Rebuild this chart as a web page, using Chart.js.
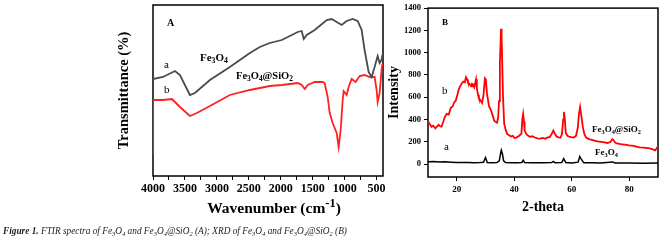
<!DOCTYPE html>
<html>
<head>
<meta charset="utf-8">
<script src="https://cdn.jsdelivr.net/npm/chart.js@4.4.0/dist/chart.umd.min.js"></script>
<style>
  body { margin: 0; background: #fff; }
  #wrap { position: relative; width: 668px; height: 246px; overflow: hidden; font-family: 'Liberation Serif', 'Times New Roman', serif; color: #000; }
  canvas { position: absolute; }
  .lbl { position: absolute; white-space: nowrap; line-height: 1; }
  .lbl sub { font-size: 70%; vertical-align: -0.3em; line-height: 0; }
  .lbl sup { font-size: 80%; vertical-align: 0.45em; line-height: 0; }
  .b { font-weight: bold; }
  .caption { transform: scaleX(0.93); transform-origin: 0 0; }
</style>
</head>
<body>
<div id="wrap">
  <canvas id="chartA" width="293" height="225" style="left:100px;top:0"></canvas>
  <canvas id="chartB" width="288" height="225" style="left:380px;top:0"></canvas>

  <!-- panel A texts -->
  <div class="lbl b" style="left:167px;top:18px;font-size:10px">A</div>
  <div class="lbl" style="left:164px;top:59px;font-size:11px">a</div>
  <div class="lbl" style="left:164px;top:84px;font-size:11px">b</div>
  <div class="lbl b" style="left:200px;top:52px;font-size:11px">Fe<sub>3</sub>O<sub>4</sub></div>
  <div class="lbl b" style="left:236px;top:71px;font-size:10.5px">Fe<sub>3</sub>O<sub>4</sub>@SiO<sub>2</sub></div>
  <div class="lbl b" style="left:174px;top:200px;width:200px;text-align:center;font-size:15.5px">Wavenumber (cm<sup>-1</sup>)</div>

  <!-- panel B texts -->
  <div class="lbl b" style="left:442px;top:18px;font-size:9px">B</div>
  <div class="lbl" style="left:442px;top:85px;font-size:11px">b</div>
  <div class="lbl" style="left:444px;top:141px;font-size:11px">a</div>
  <div class="lbl b" style="left:592px;top:125px;font-size:9px">Fe<sub>3</sub>O<sub>4</sub>@SiO<sub>2</sub></div>
  <div class="lbl b" style="left:595px;top:148px;font-size:9px">Fe<sub>3</sub>O<sub>4</sub></div>

  <div class="lbl caption" style="left:3px;top:226px;font-size:10px;font-style:italic;color:#222"><span class="b">Figure 1.</span> FTIR spectra of Fe<sub>3</sub>O<sub>4</sub> and Fe<sub>3</sub>O<sub>4</sub>@SiO<sub>2</sub> (A); XRD of Fe<sub>3</sub>O<sub>4</sub> and Fe<sub>3</sub>O<sub>4</sub>@SiO<sub>2</sub> (B)</div>
</div>

<script>
// FTIR (A) - curve a: Fe3O4
const ftirWaveA  = [4000, 3844, 3656, 3578, 3422, 3344, 3109, 2797, 2484, 2328, 2172, 1984, 1734, 1672, 1641, 1594, 1469, 1281, 1203, 1125, 1047, 969, 875, 797, 734, 688, 625, 578, 531, 484, 453, 422, 410];
const ftirTransA = [97, 99, 105, 101, 81, 83, 96, 109, 123, 129, 133, 136, 144, 145, 137, 141, 146, 156, 157, 154, 151, 155, 157, 155, 146, 126, 104, 99, 109, 120, 113, 116, 121];

// FTIR (A) - curve b: Fe3O4@SiO2
const ftirWaveB  = [4000, 4000, 3844, 3703, 3578, 3422, 3313, 3109, 2797, 2484, 2172, 1984, 1734, 1672, 1625, 1578, 1469, 1344, 1313, 1266, 1234, 1188, 1125, 1094, 1063, 1031, 1016, 969, 938, 891, 828, 766, 688, 609, 531, 500, 484, 453, 422, 410];
const ftirTransB = [21, 76, 76, 77, 69, 60, 63, 70, 81, 86, 90, 91, 93, 91, 87, 91, 94, 94, 93, 79, 63, 53, 43, 29, 46, 76, 85, 81, 89, 97, 94, 100, 101, 99, 99, 86, 74, 83, 106, 112];

// XRD (B) - curve a: Fe3O4
const xrdAngleA = [10, 12, 14, 16, 18, 20, 22, 24, 26, 28, 29.3, 30.0, 30.6, 32, 34, 34.8, 35.2, 35.5, 35.9, 36.3, 37, 39, 41, 42.6, 43.1, 43.6, 46, 50, 53, 53.6, 54.2, 56.5, 57.2, 57.9, 60, 62.2, 62.8, 63.4, 64.2, 67, 70, 74.3, 75, 80, 85, 90];
const xrdIntA   = [22, 25, 20, 22, 18, 15, 14, 15, 13, 15, 18, 60, 15, 12, 14, 30, 90, 125, 90, 30, 15, 12, 12, 14, 35, 14, 12, 12, 14, 25, 12, 14, 50, 14, 10, 18, 70, 40, 12, 12, 10, 20, 10, 10, 8, 10];

// XRD (B) - curve b: Fe3O4@SiO2
const xrdAngleB = [10, 10.6, 11.2, 11.8, 12.6, 13.2, 13.7, 14.2, 14.7, 15.3, 15.8, 16.5, 17.2, 17.9, 18.6, 19.2, 19.6, 20.2, 20.7, 21.2, 21.8, 22.3, 22.8, 23.2, 23.6, 23.9, 24.4, 25.0, 25.3, 25.6, 26.1, 26.7, 27.0, 27.4, 27.7, 28.3, 28.8, 29.3, 29.8, 30.1, 30.5, 31.2, 31.8, 32.3, 32.7, 33.0, 33.5, 34.0, 34.4, 34.7, 35.0, 35.4, 35.6, 35.8, 36.1, 36.5, 37.0, 37.5, 38.2, 38.9, 39.5, 40.1, 40.7, 41.5, 42.0, 42.5, 42.8, 43.1, 43.4, 43.6, 44.2, 44.7, 45.5, 46.3, 47.2, 48.0, 49.0, 50.0, 50.8, 51.5, 52.4, 53.0, 53.6, 54.2, 54.7, 55.4, 56.1, 56.6, 57.0, 57.3, 57.6, 57.9, 58.5, 59.0, 59.8, 60.7, 61.5, 62.1, 62.5, 62.9, 63.3, 63.9, 64.4, 65.0, 66.0, 67.0, 67.9, 69.0, 70.2, 71.4, 72.5, 73.5, 74.1, 74.6, 75.2, 75.7, 77.0, 78.5, 79.9, 81.5, 83.5, 85.0, 87.0, 88.0, 89.0, 89.5, 90.0];
const xrdIntB   = [383, 360, 336, 345, 321, 340, 354, 340, 336, 380, 420, 451, 445, 504, 520, 560, 566, 620, 672, 700, 726, 740, 735, 779, 760, 735, 720, 699, 720, 717, 690, 761, 681, 620, 593, 570, 549, 620, 770, 760, 637, 522, 490, 451, 420, 389, 380, 372, 420, 566, 900, 1215, 1150, 920, 600, 363, 310, 274, 260, 248, 255, 235, 239, 250, 262, 274, 400, 451, 380, 301, 270, 257, 245, 250, 239, 232, 230, 235, 228, 239, 245, 270, 301, 270, 248, 240, 239, 270, 400, 469, 400, 283, 255, 248, 242, 239, 255, 327, 450, 513, 440, 327, 270, 239, 225, 218, 212, 205, 200, 195, 190, 200, 225, 212, 192, 186, 180, 175, 168, 165, 150, 148, 142, 135, 124, 140, 160];

// tick positions / labels
const ftirTicks      = [4000, 3750, 3500, 3250, 3000, 2750, 2500, 2250, 2000, 1750, 1500, 1250, 1000, 750, 500];
const ftirTickLabels = [4000, 3500, 3000, 2500, 2000, 1500, 1000, 500];
const xrdXTickLabels = [20, 40, 60, 80];
const xrdYTickLabels = [0, 200, 400, 600, 800, 1000, 1200, 1400];

function pairs(xs, ys) {
    return xs.map((x, i) => ({ x: x, y: ys[i] }));
}

function fixedTicks(values) {
    return s => { s.ticks = values.map(v => ({ value: v })); };
}

Chart.defaults.font.family = "'Liberation Serif', 'Times New Roman', serif";
Chart.defaults.color = '#000';

// 画外框
const framePlugin = {
    id: 'frame',
    beforeDatasetsDraw(chart) {
        const { ctx, chartArea: a } = chart;
        ctx.save();
        ctx.strokeStyle = '#000';
        ctx.lineWidth = 1.5;
        ctx.strokeRect(a.left, a.top, a.right - a.left, a.bottom - a.top);
        ctx.restore();
    }
};

const lineStyle = { pointRadius: 0, tension: 0, fill: false };

new Chart(document.getElementById('chartA'), {
    type: 'line',
    data: {
        datasets: [
            Object.assign({ data: pairs(ftirWaveA, ftirTransA), borderColor: '#4a4a4a', borderWidth: 1.8 }, lineStyle),
            Object.assign({ data: pairs(ftirWaveB, ftirTransB), borderColor: '#ff2020', borderWidth: 1.8 }, lineStyle)
        ]
    },
    options: {
        responsive: false,
        animation: false,
        layout: { padding: { top: 5, right: 10, left: 0, bottom: 0 } },
        plugins: { legend: { display: false }, tooltip: { enabled: false } },
        scales: {
            x: {
                type: 'linear',
                reverse: true,
                min: 400,
                max: 4000,
                afterBuildTicks: fixedTicks(ftirTicks),
                afterFit: s => { s.height = 49; },
                ticks: {
                    autoSkip: false,
                    maxRotation: 0,
                    padding: 2,
                    font: { size: 12, weight: 'bold' },
                    callback: v => ftirTickLabels.includes(v) ? String(v) : ''
                },
                grid: { drawOnChartArea: false, tickLength: 4, color: '#000', lineWidth: 1 },
                border: { display: false }
            },
            y: {
                min: 0,
                max: 171,
                afterFit: s => { s.width = 53; },
                ticks: { display: false },
                grid: { display: false },
                border: { display: false },
                title: {
                    display: true,
                    text: 'Transmittance (%)',
                    font: { size: 14.5, weight: 'bold' },
                    padding: { top: 16, bottom: 0 }
                }
            }
        }
    },
    plugins: [framePlugin]
});

new Chart(document.getElementById('chartB'), {
    type: 'line',
    data: {
        datasets: [
            Object.assign({ data: pairs(xrdAngleA, xrdIntA), borderColor: '#000000', borderWidth: 1.5 }, lineStyle),
            Object.assign({ data: pairs(xrdAngleB, xrdIntB), borderColor: '#ff0000', borderWidth: 1.8 }, lineStyle)
        ]
    },
    options: {
        responsive: false,
        animation: false,
        layout: { padding: { top: 5, right: 10, left: 0, bottom: 0 } },
        plugins: { legend: { display: false }, tooltip: { enabled: false } },
        scales: {
            x: {
                type: 'linear',
                min: 10,
                max: 90,
                afterBuildTicks: fixedTicks(xrdXTickLabels),
                afterFit: s => { s.height = 48; },
                ticks: { autoSkip: false, maxRotation: 0, padding: 3, font: { size: 9, weight: 'bold' }, callback: v => String(v) },
                grid: { drawOnChartArea: false, tickLength: 4, color: '#000', lineWidth: 1 },
                border: { display: false },
                title: {
                    display: true,
                    text: '2-theta',
                    font: { size: 14, weight: 'bold' },
                    padding: { top: 0, bottom: 9 }
                }
            },
            y: {
                min: -115,
                max: 1400,
                afterBuildTicks: fixedTicks(xrdYTickLabels),
                afterFit: s => { s.width = 48; },
                ticks: { autoSkip: false, padding: 3, font: { size: 8.5, weight: 'bold' }, callback: v => String(v) },
                grid: { drawOnChartArea: false, tickLength: 4, color: '#000', lineWidth: 1 },
                border: { display: false },
                title: {
                    display: true,
                    text: 'Intensity',
                    font: { size: 14, weight: 'bold' },
                    padding: { top: 6, bottom: 0 }
                }
            }
        }
    },
    plugins: [framePlugin]
});
</script>
</body>
</html>
